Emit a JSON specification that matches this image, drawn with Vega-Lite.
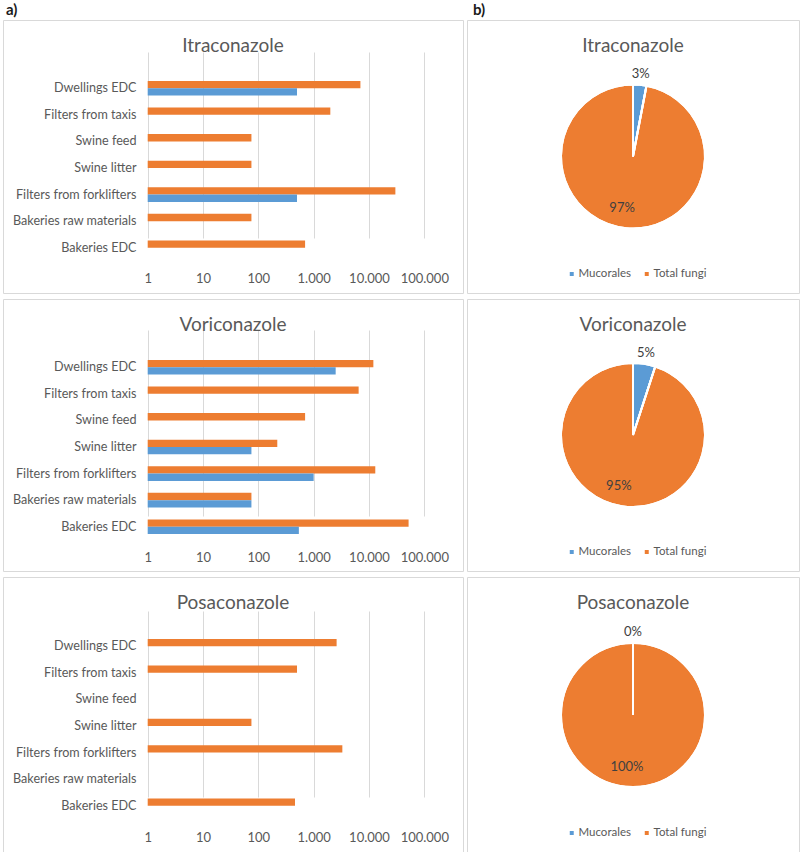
{
  "$schema": "https://vega.github.io/schema/vega-lite/v6.json",
  "padding": {"left": 2, "top": 2, "right": 0, "bottom": 0},
  "background": "white",
  "spacing": 2,
  "config": {
    "font": "Lato",
    "view": {"stroke": "#d9d9d9", "strokeWidth": 1},
    "title": {"fontSize": 19, "fontWeight": "normal", "color": "#595959", "font": "Lato"},
    "axis": {"labelFont": "Lato", "labelFontSize": 13, "labelColor": "#595959"},
    "legend": {"labelFont": "Lato"}
  },
  "datasets": {
    "bars": [
      {"drug": "Itraconazole", "source": "Dwellings EDC", "group": "Total fungi", "value": 7000},
      {"drug": "Itraconazole", "source": "Dwellings EDC", "group": "Mucorales", "value": 500},
      {"drug": "Itraconazole", "source": "Filters from taxis", "group": "Total fungi", "value": 2000},
      {"drug": "Itraconazole", "source": "Swine feed", "group": "Total fungi", "value": 75},
      {"drug": "Itraconazole", "source": "Swine litter", "group": "Total fungi", "value": 75},
      {"drug": "Itraconazole", "source": "Filters from forklifters", "group": "Total fungi", "value": 30000},
      {"drug": "Itraconazole", "source": "Filters from forklifters", "group": "Mucorales", "value": 500},
      {"drug": "Itraconazole", "source": "Bakeries raw materials", "group": "Total fungi", "value": 75},
      {"drug": "Itraconazole", "source": "Bakeries EDC", "group": "Total fungi", "value": 700},
      {"drug": "Voriconazole", "source": "Dwellings EDC", "group": "Total fungi", "value": 12000},
      {"drug": "Voriconazole", "source": "Dwellings EDC", "group": "Mucorales", "value": 2500},
      {"drug": "Voriconazole", "source": "Filters from taxis", "group": "Total fungi", "value": 6500},
      {"drug": "Voriconazole", "source": "Swine feed", "group": "Total fungi", "value": 700},
      {"drug": "Voriconazole", "source": "Swine litter", "group": "Total fungi", "value": 220},
      {"drug": "Voriconazole", "source": "Swine litter", "group": "Mucorales", "value": 75},
      {"drug": "Voriconazole", "source": "Filters from forklifters", "group": "Total fungi", "value": 13000},
      {"drug": "Voriconazole", "source": "Filters from forklifters", "group": "Mucorales", "value": 1000},
      {"drug": "Voriconazole", "source": "Bakeries raw materials", "group": "Total fungi", "value": 75},
      {"drug": "Voriconazole", "source": "Bakeries raw materials", "group": "Mucorales", "value": 75},
      {"drug": "Voriconazole", "source": "Bakeries EDC", "group": "Total fungi", "value": 52000},
      {"drug": "Voriconazole", "source": "Bakeries EDC", "group": "Mucorales", "value": 540},
      {"drug": "Posaconazole", "source": "Dwellings EDC", "group": "Total fungi", "value": 2600},
      {"drug": "Posaconazole", "source": "Filters from taxis", "group": "Total fungi", "value": 500},
      {"drug": "Posaconazole", "source": "Swine litter", "group": "Total fungi", "value": 75},
      {"drug": "Posaconazole", "source": "Filters from forklifters", "group": "Total fungi", "value": 3300},
      {"drug": "Posaconazole", "source": "Bakeries EDC", "group": "Total fungi", "value": 460}
    ],
    "pies": [
      {"drug": "Itraconazole", "group": "Mucorales", "share": 0.03},
      {"drug": "Itraconazole", "group": "Total fungi", "share": 0.97},
      {"drug": "Voriconazole", "group": "Mucorales", "share": 0.05},
      {"drug": "Voriconazole", "group": "Total fungi", "share": 0.95},
      {"drug": "Posaconazole", "group": "Mucorales", "share": 0},
      {"drug": "Posaconazole", "group": "Total fungi", "share": 1}
    ]
  },
  "resolve": {"scale": {"color": "independent", "theta": "independent"}, "legend": {"color": "independent"}},
  "hconcat": [
    {
      "title": {"text": "a)", "anchor": "start", "frame": "group", "fontSize": 15, "fontWeight": "bold", "color": "#1a1a1a", "offset": 2, "dx": 3},
      "spacing": 4,
      "resolve": {"scale": {"color": "independent", "x": "independent", "y": "independent"}, "legend": {"color": "independent"}},
      "vconcat": [
        {
          "width": 460, "height": 273,
          "title": {"text": "Itraconazole", "offset": -36, "anchor": "middle", "frame": "group"},
          "data": {"name": "bars"},
          "transform": [{"filter": "datum.drug === 'Itraconazole'"}],
          "mark": {"type": "bar"},
          "encoding": {
            "y": {"field": "source", "type": "nominal",
              "scale": {"domain": ["Dwellings EDC", "Filters from taxis", "Swine feed", "Swine litter", "Filters from forklifters", "Bakeries raw materials", "Bakeries EDC"], "range": [55, 241], "paddingInner": 0.45, "paddingOuter": 0.225},
              "axis": {"title": null, "ticks": false, "domain": false, "grid": false, "labelPadding": 12, "offset": -145, "labelFontSize": 12.6}},
            "yOffset": {"field": "group", "type": "nominal", "scale": {"domain": ["Total fungi", "Mucorales"], "paddingInner": 0, "paddingOuter": 0}},
            "x": {"field": "value", "type": "quantitative",
              "scale": {"type": "log", "domain": [1, 100000], "range": [144.7, 421.3], "nice": false},
              "axis": {"title": null, "values": [1, 10, 100, 1000, 10000, 100000], "ticks": false, "domain": false, "grid": true, "gridColor": "#d9d9d9", "labelFlush": false, "labelOverlap": false, "labelPadding": 5, "offset": -26, "labelExpr": "replace(format(datum.value, ','), regexp(',', 'g'), '.')"}},
            "x2": {"datum": 1},
            "color": {"field": "group", "type": "nominal", "scale": {"domain": ["Mucorales", "Total fungi"], "range": ["#5B9BD5", "#ED7D31"]}, "legend": null}
          }
        },
        {
          "width": 460, "height": 272,
          "title": {"text": "Voriconazole", "offset": -36, "anchor": "middle", "frame": "group"},
          "data": {"name": "bars"},
          "transform": [{"filter": "datum.drug === 'Voriconazole'"}],
          "mark": {"type": "bar"},
          "encoding": {
            "y": {"field": "source", "type": "nominal",
              "scale": {"domain": ["Dwellings EDC", "Filters from taxis", "Swine feed", "Swine litter", "Filters from forklifters", "Bakeries raw materials", "Bakeries EDC"], "range": [55, 241], "paddingInner": 0.45, "paddingOuter": 0.225},
              "axis": {"title": null, "ticks": false, "domain": false, "grid": false, "labelPadding": 12, "offset": -145, "labelFontSize": 12.6}},
            "yOffset": {"field": "group", "type": "nominal", "scale": {"domain": ["Total fungi", "Mucorales"], "paddingInner": 0, "paddingOuter": 0}},
            "x": {"field": "value", "type": "quantitative",
              "scale": {"type": "log", "domain": [1, 100000], "range": [144.7, 421.3], "nice": false},
              "axis": {"title": null, "values": [1, 10, 100, 1000, 10000, 100000], "ticks": false, "domain": false, "grid": true, "gridColor": "#d9d9d9", "labelFlush": false, "labelOverlap": false, "labelPadding": 5, "offset": -25, "labelExpr": "replace(format(datum.value, ','), regexp(',', 'g'), '.')"}},
            "x2": {"datum": 1},
            "color": {"field": "group", "type": "nominal", "scale": {"domain": ["Mucorales", "Total fungi"], "range": ["#5B9BD5", "#ED7D31"]}, "legend": null}
          }
        },
        {
          "width": 460, "height": 276,
          "title": {"text": "Posaconazole", "offset": -36, "anchor": "middle", "frame": "group"},
          "data": {"name": "bars"},
          "transform": [{"filter": "datum.drug === 'Posaconazole'"}],
          "mark": {"type": "bar"},
          "encoding": {
            "y": {"field": "source", "type": "nominal",
              "scale": {"domain": ["Dwellings EDC", "Filters from taxis", "Swine feed", "Swine litter", "Filters from forklifters", "Bakeries raw materials", "Bakeries EDC"], "range": [56, 242], "paddingInner": 0.45, "paddingOuter": 0.225},
              "axis": {"title": null, "ticks": false, "domain": false, "grid": false, "labelPadding": 12, "offset": -145, "labelFontSize": 12.6}},
            "yOffset": {"field": "group", "type": "nominal", "scale": {"domain": ["Total fungi", "Mucorales"], "paddingInner": 0, "paddingOuter": 0}},
            "x": {"field": "value", "type": "quantitative",
              "scale": {"type": "log", "domain": [1, 100000], "range": [144.7, 421.3], "nice": false},
              "axis": {"title": null, "values": [1, 10, 100, 1000, 10000, 100000], "ticks": false, "domain": false, "grid": true, "gridColor": "#d9d9d9", "labelFlush": false, "labelOverlap": false, "labelPadding": 5, "offset": -27, "labelExpr": "replace(format(datum.value, ','), regexp(',', 'g'), '.')"}},
            "x2": {"datum": 1},
            "color": {"field": "group", "type": "nominal", "scale": {"domain": ["Mucorales", "Total fungi"], "range": ["#5B9BD5", "#ED7D31"]}, "legend": null}
          }
        }
      ]
    },
    {
      "title": {"text": "b)", "anchor": "start", "frame": "group", "fontSize": 15, "fontWeight": "bold", "color": "#1a1a1a", "offset": 2, "dx": 6},
      "spacing": 4,
      "resolve": {"scale": {"color": "independent", "theta": "independent"}, "legend": {"color": "independent"}},
      "vconcat": [
        {
          "width": 332, "height": 273,
          "view": {"stroke": "#d9d9d9", "strokeWidth": 1},
          "title": {"text": "Itraconazole", "offset": -36, "anchor": "middle", "frame": "group"},
          "data": {"name": "pies"},
          "transform": [{"filter": "datum.drug === 'Itraconazole'"}],
          "encoding": {
            "theta": {"field": "share", "type": "quantitative", "stack": true},
            "order": {"field": "group", "sort": "ascending"},
            "color": {"field": "group", "type": "nominal", "scale": {"domain": ["Mucorales", "Total fungi"], "range": ["#5B9BD5", "#ED7D31"]},
              "legend": {"title": null, "orient": "none", "legendX": 99, "legendY": 248, "direction": "horizontal", "symbolType": "square", "symbolSize": 30, "labelFontSize": 11.5, "labelColor": "#595959", "columnPadding": 10, "labelOffset": 1}}
          },
          "layer": [
            {"mark": {"type": "arc", "outerRadius": 72, "stroke": "white", "strokeWidth": 2}},
            {"mark": {"type": "arc", "outerRadius": 72, "stroke": "white", "strokeWidth": 2, "fillOpacity": 0}},
            {"mark": {"type": "text", "radius": 83, "fontSize": 13},
              "encoding": {"color": {"value": "#404040"}, "text": {"field": "share", "type": "quantitative", "format": ".0%", "condition": {"test": "datum.group !== 'Mucorales'", "value": ""}}}},
            {"mark": {"type": "text", "radius": 52, "dx": -6, "fontSize": 13},
              "encoding": {"color": {"value": "#404040"}, "text": {"field": "share", "type": "quantitative", "format": ".0%", "condition": {"test": "datum.group === 'Mucorales'", "value": ""}}}}
          ]
        },
        {
          "width": 332, "height": 272,
          "view": {"stroke": "#d9d9d9", "strokeWidth": 1},
          "title": {"text": "Voriconazole", "offset": -36, "anchor": "middle", "frame": "group"},
          "data": {"name": "pies"},
          "transform": [{"filter": "datum.drug === 'Voriconazole'"}],
          "encoding": {
            "theta": {"field": "share", "type": "quantitative", "stack": true},
            "order": {"field": "group", "sort": "ascending"},
            "color": {"field": "group", "type": "nominal", "scale": {"domain": ["Mucorales", "Total fungi"], "range": ["#5B9BD5", "#ED7D31"]},
              "legend": {"title": null, "orient": "none", "legendX": 99, "legendY": 247, "direction": "horizontal", "symbolType": "square", "symbolSize": 30, "labelFontSize": 11.5, "labelColor": "#595959", "columnPadding": 10, "labelOffset": 1}}
          },
          "layer": [
            {"mark": {"type": "arc", "outerRadius": 72, "stroke": "white", "strokeWidth": 2}},
            {"mark": {"type": "arc", "outerRadius": 72, "stroke": "white", "strokeWidth": 2, "fillOpacity": 0}},
            {"mark": {"type": "text", "radius": 83, "fontSize": 13},
              "encoding": {"color": {"value": "#404040"}, "text": {"field": "share", "type": "quantitative", "format": ".0%", "condition": {"test": "datum.group !== 'Mucorales'", "value": ""}}}},
            {"mark": {"type": "text", "radius": 52, "dx": -6, "fontSize": 13},
              "encoding": {"color": {"value": "#404040"}, "text": {"field": "share", "type": "quantitative", "format": ".0%", "condition": {"test": "datum.group === 'Mucorales'", "value": ""}}}}
          ]
        },
        {
          "width": 332, "height": 276,
          "view": {"stroke": "#d9d9d9", "strokeWidth": 1},
          "title": {"text": "Posaconazole", "offset": -36, "anchor": "middle", "frame": "group"},
          "data": {"name": "pies"},
          "transform": [{"filter": "datum.drug === 'Posaconazole'"}],
          "encoding": {
            "theta": {"field": "share", "type": "quantitative", "stack": true},
            "order": {"field": "group", "sort": "ascending"},
            "color": {"field": "group", "type": "nominal", "scale": {"domain": ["Mucorales", "Total fungi"], "range": ["#5B9BD5", "#ED7D31"]},
              "legend": {"title": null, "orient": "none", "legendX": 99, "legendY": 250, "direction": "horizontal", "symbolType": "square", "symbolSize": 30, "labelFontSize": 11.5, "labelColor": "#595959", "columnPadding": 10, "labelOffset": 1}}
          },
          "layer": [
            {"mark": {"type": "arc", "outerRadius": 72, "stroke": "white", "strokeWidth": 2}},
            {"mark": {"type": "arc", "outerRadius": 72, "stroke": "white", "strokeWidth": 2, "fillOpacity": 0}},
            {"mark": {"type": "text", "radius": 83, "fontSize": 13},
              "encoding": {"color": {"value": "#404040"}, "text": {"field": "share", "type": "quantitative", "format": ".0%", "condition": {"test": "datum.group !== 'Mucorales'", "value": ""}}}},
            {"mark": {"type": "text", "radius": 52, "dx": -6, "fontSize": 13},
              "encoding": {"color": {"value": "#404040"}, "text": {"field": "share", "type": "quantitative", "format": ".0%", "condition": {"test": "datum.group === 'Mucorales'", "value": ""}}}}
          ]
        }
      ]
    }
  ]
}
